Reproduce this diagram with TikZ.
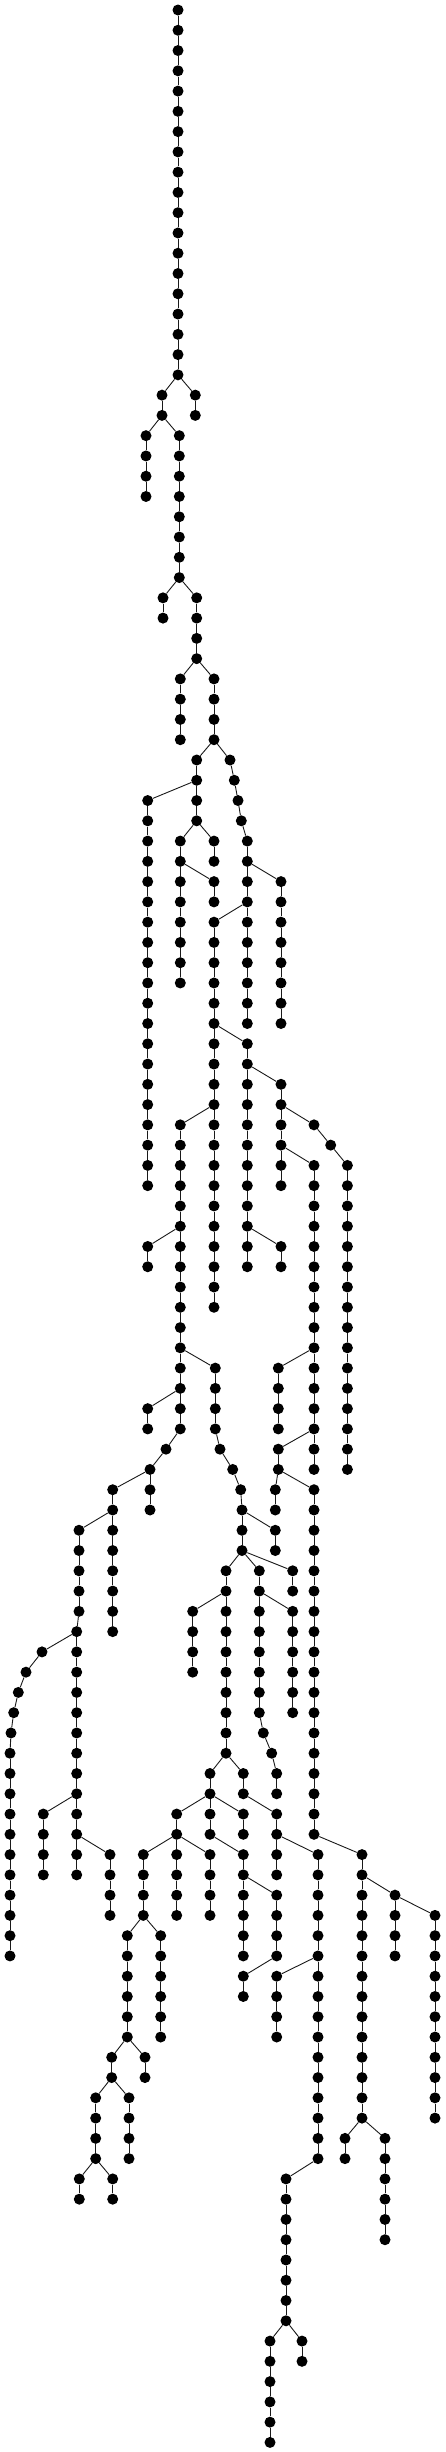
\documentclass[tikz,border=0pt]{standalone}
\usetikzlibrary{calc}
\tikzset{
  dot/.style={circle, fill=black, inner sep=0pt, minimum size=11pt},
  edge/.style={line width=0.9pt, black!90}
}
\newcommand\N[3]{\node[dot] (#1) at (#2pt,{-10pt-20.27pt*#3}) {};}
\newcommand\E[2]{\draw[edge] (#1) -- (#2);}
\newcommand\C[4]{%
  \foreach \l in {#3,...,#4}{\N{#1-\l}{#2}{\l}}%
  \ifnum#3<#4\relax
    \pgfmathtruncatemacro\cstart{#3+1}%
    \foreach \l [evaluate=\l as \p using int(\l-1)] in {\cstart,...,#4}{\draw[edge] (#1-\p) -- (#1-\l);}%
  \fi}
\newcommand\Cx[3]{%
  \foreach \xx [count=\i from 0] in {#3}{%
    \pgfmathtruncatemacro\lv{#2+\i}%
    \N{#1-\lv}{\xx}{\lv}%
    \ifnum\i>0 \pgfmathtruncatemacro\pv{\lv-1}\draw[edge] (#1-\pv) -- (#1-\lv);\fi
  }}
\begin{document}
\begin{tikzpicture}[x=1pt,y=1pt]
\useasboundingbox (0,0) rectangle (446,-2452);
\C{A}{178}{0}{18}
\C{B}{162}{19}{20}
\C{C}{195.3}{19}{20}
\E{A-18}{B-19}\E{A-18}{C-19}
\C{D}{146}{21}{24}
\C{E}{179.3}{21}{28}
\E{B-20}{D-21}\E{B-20}{E-21}
\C{F}{163}{29}{30}
\C{G}{196.7}{29}{32}
\E{E-28}{F-29}\E{E-28}{G-29}
\C{H}{180.3}{33}{36}
\C{I}{214}{33}{36}
\E{G-32}{H-33}\E{G-32}{I-33}
\C{J}{196.7}{37}{40}
\Cx{K}{37}{230,234.3,238,241.3,247.3,247.3,247.3,247.3,247.3,247.3,247.3,247.3,247.3,247.3}
\E{I-36}{J-37}\E{I-36}{K-37}
\C{O}{147.7}{39}{58}\E{J-38}{O-39}
\C{P}{180.3}{41}{48}
\C{Q}{214}{41}{42}
\E{J-40}{P-41}\E{J-40}{Q-41}
\C{R}{214}{43}{44}\E{P-42}{R-43}
\C{N}{281}{43}{50}\E{K-42}{N-43}
\C{M}{214}{45}{64}\E{K-44}{M-45}
\C{S}{247.3}{51}{62}\E{M-50}{S-51}
\C{U}{281}{53}{58}\E{S-52}{U-53}
\C{V}{281}{61}{62}\E{S-60}{V-61}
% right part (upper)
\Cx{W}{55}{314,330.7,347.4,347.4,347.4,347.4,347.4,347.4,347.4,347.4,347.4,347.4,347.4,347.4,347.4,347.4,347.4,347.4}
\E{U-54}{W-55}
\C{WB}{314}{57}{72}\E{U-56}{WB-57}
\C{CA}{278.3}{67}{70}\E{WB-66}{CA-67}
\Cx{CB}{71}{278.3,278.3,275.3,275.3}\E{WB-70}{CB-71}
\C{CC}{314}{73}{90}\E{CB-72}{CC-73}
\Cx{T}{55}{180.3,180.3,180.3,180.3,180.3,180.3,180.3,180.3,180.3,180.3,180.3,180.3,180.3,180.3,180.3,180.3,166,150,150,150}
\E{M-54}{T-55}
\C{X}{147.7}{61}{62}\E{T-60}{X-61}
\Cx{Y}{67}{215.3,215.3,215.3,215.3,220,232.7,240.7,242,242,242}
\E{T-66}{Y-67}
\C{Z}{147.7}{69}{70}\E{T-68}{Z-69}
\C{AA}{112.7}{73}{80}\E{T-72}{AA-73}
\Cx{AB}{75}{79,79,79,79,79,76.7,76.7,76.7,76.7,76.7,76.7,76.7,76.7,76.7,76.7,76.7,76.7,76.7}
\E{AA-74}{AB-75}
\Cx{AC}{81}{42,26,18.3,13.7,11,10,10,10,10,10,10,10,10,10,10,10}
\E{AB-80}{AC-81}
\C{AD}{43.3}{89}{92}\E{AB-88}{AD-89}
\C{AE}{110}{91}{94}\E{AB-90}{AE-91}
\C{AF}{275.3}{75}{76}\E{Y-74}{AF-75}
\C{AG}{226}{77}{86}
\Cx{AH}{77}{259.3,259.3,259.3,259.3,259.3,259.3,259.3,259.3,263.3,271.7,276.7,276.7}
\C{AI}{292.7}{77}{78}
\E{Y-76}{AG-77}\E{Y-76}{AH-77}\E{Y-76}{AI-77}
\C{AJ}{192.7}{79}{82}\E{AG-78}{AJ-79}
\C{AK}{292.7}{79}{84}\E{AH-78}{AK-79}
\C{AL}{210}{87}{88}\C{AM}{243.3}{87}{88}
\E{AG-86}{AL-87}\E{AG-86}{AM-87}
\C{AN}{176.7}{89}{90}\C{AO}{210}{89}{90}\C{AP}{243.3}{89}{90}
\E{AL-88}{AN-89}\E{AL-88}{AO-89}\E{AL-88}{AP-89}
\C{AQ}{276.7}{89}{92}\E{AM-88}{AQ-89}
\C{AR}{143.3}{91}{94}\C{AS}{176.7}{91}{94}\C{AT}{210}{91}{94}
\E{AN-90}{AR-91}\E{AN-90}{AS-91}\E{AN-90}{AT-91}
\C{AU}{243.3}{91}{96}\E{AO-90}{AU-91}
\C{AV}{276.7}{93}{96}\E{AU-92}{AV-93}
\C{AW}{243.3}{97}{98}\E{AV-96}{AW-97}
\C{DA}{318}{91}{106}\E{AQ-90}{DA-91}
\C{AX}{276.7}{97}{100}\E{DA-96}{AX-97}
\C{AY}{127.3}{95}{100}\C{AZ}{160.7}{95}{100}
\E{AR-94}{AY-95}\E{AR-94}{AZ-95}
\C{BA}{111.7}{101}{102}\C{BB}{145}{101}{102}
\E{AY-100}{BA-101}\E{AY-100}{BB-101}
\C{BC}{95.7}{103}{106}\C{BD}{129}{103}{106}
\E{BA-102}{BC-103}\E{BA-102}{BD-103}
\C{BE}{79.3}{107}{108}\C{BF}{112.7}{107}{108}
\E{BC-106}{BE-107}\E{BC-106}{BF-107}
\C{BG}{286}{107}{114}\E{DA-106}{BG-107}
\C{BH}{270}{115}{120}\C{BI}{302}{115}{116}
\E{BG-114}{BH-115}\E{BG-114}{BI-115}
% lower right (approximate)
\C{EA}{362}{91}{104}\E{CC-90}{EA-91}
\C{EB}{395}{93}{96}\E{EA-92}{EB-93}
\C{EC}{435}{94}{104}\E{EB-93}{EC-94}
\C{ED}{345}{105}{106}\E{EA-104}{ED-105}
\C{EE}{385}{105}{110}\E{EA-104}{EE-105}
\end{tikzpicture}
\end{document}
